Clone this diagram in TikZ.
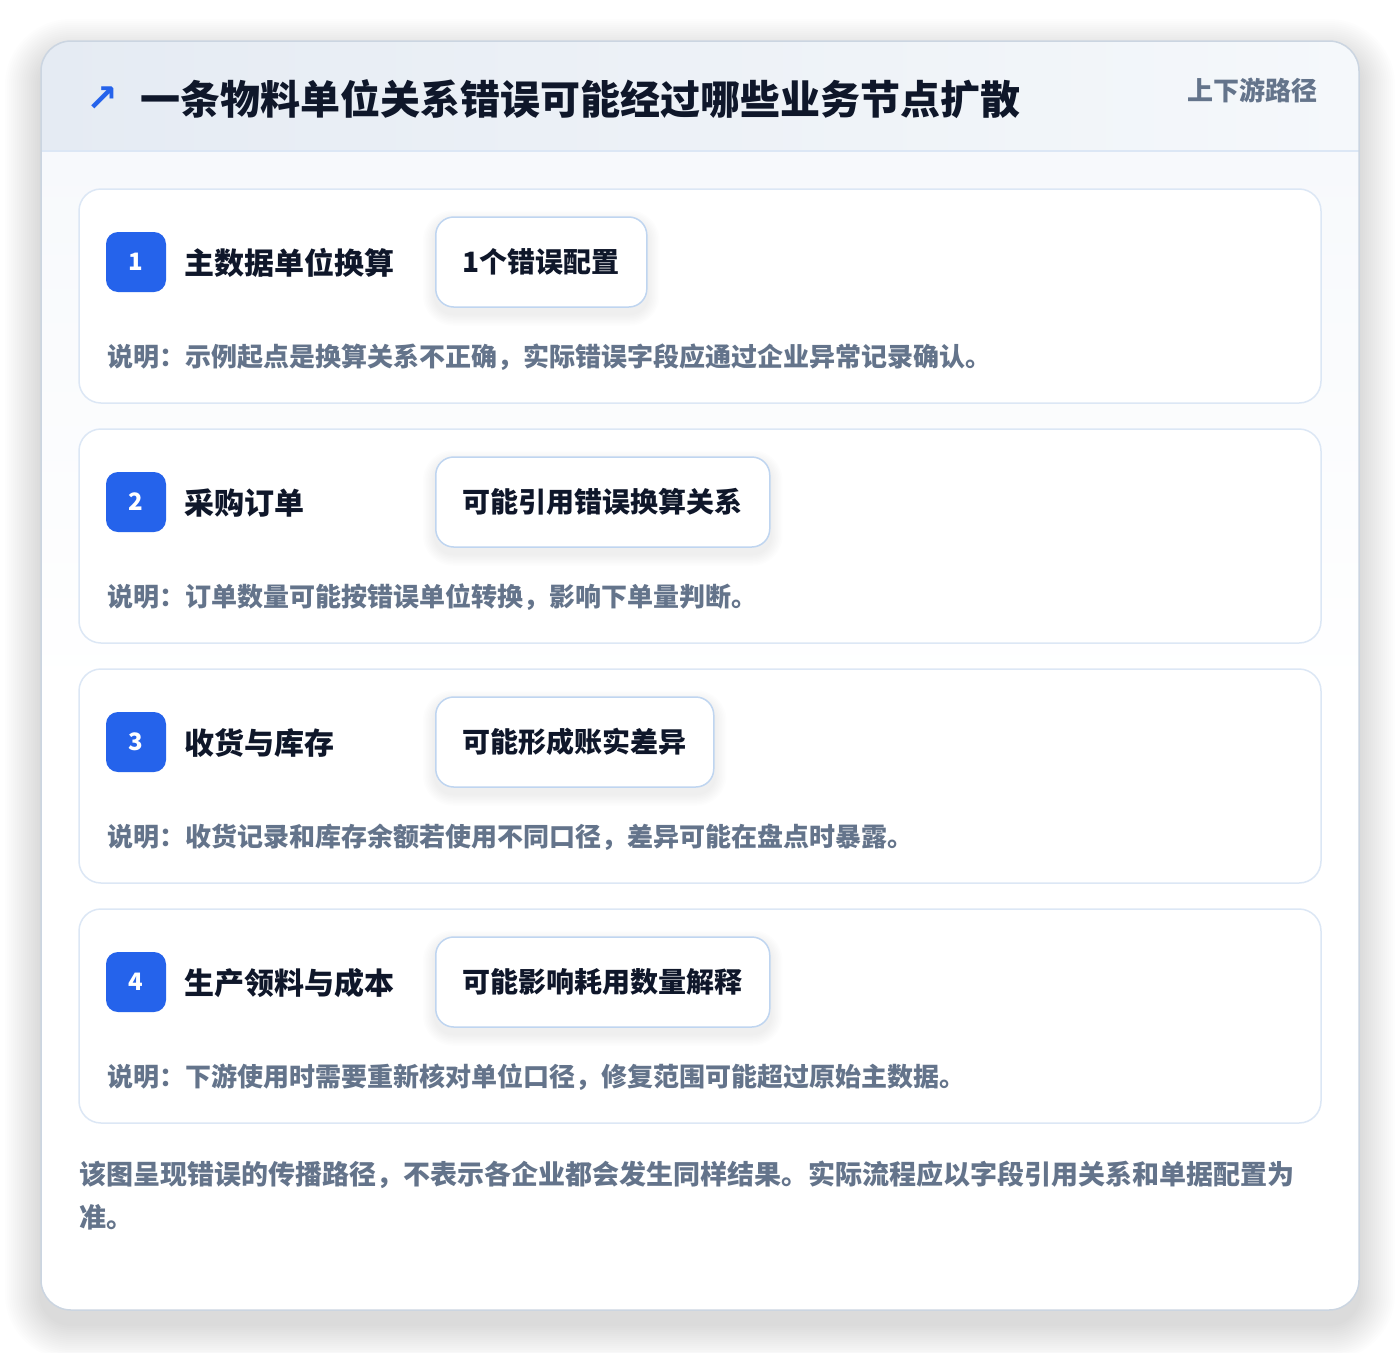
\documentclass[tikz,border=0pt]{standalone}
\usepackage{fontspec}
\setmainfont{Noto Sans CJK SC}
\newfontfamily\symfont{DejaVu Sans}
\definecolor{accent}{HTML}{2563EB}
\definecolor{ink}{HTML}{0F172A}
\definecolor{muted}{HTML}{64748B}
\definecolor{cardline}{HTML}{DCE7F5}
\definecolor{pillline}{HTML}{BFD5F0}
\definecolor{outerline}{HTML}{CBD5E1}
\definecolor{headA}{HTML}{E5EBF3}
\definecolor{headB}{HTML}{F5F8FB}
\definecolor{bodytop}{HTML}{F7F9FC}
\definecolor{shadowcol}{HTML}{1E293B}
\tikzset{
  stepcard/.style={draw=cardline, line width=1.5pt, fill=white, rounded corners=22pt,
    minimum width=1242pt, minimum height=214pt, inner sep=0pt},
  badge/.style={fill=accent, rounded corners=12pt, minimum width=60pt, minimum height=60pt,
    inner sep=0pt, text=white, font=\fontsize{24}{26}\selectfont\bfseries},
  steptitle/.style={anchor=west, inner sep=0pt, text=ink, font=\fontsize{30}{36}\selectfont\bfseries},
  pill/.style={anchor=west, draw=pillline, line width=1.5pt, fill=white, rounded corners=18pt,
    minimum height=90pt, inner xsep=27pt, inner ysep=0pt, text=ink,
    font=\fontsize{28}{32}\selectfont\bfseries},
  desc/.style={anchor=west, inner sep=0pt, text=muted, font=\fontsize{26}{30}\selectfont\bfseries},
  foot/.style={anchor=west, inner sep=0pt, text=muted, font=\fontsize{27}{32}\selectfont\bfseries},
}
\newcommand{\softshadow}[5]{% x1 y1 x2 y2 radius
  \foreach \i in {1,...,18}{
    \fill[shadowcol, opacity=0.006, rounded corners={#5+2*\i}]
      ({#1-2*\i},{#2-2*\i+14}) rectangle ({#3+2*\i},{#4+2*\i+14});
  }}
\newcommand{\pillshadow}[1]{% node name
  \foreach \i in {1,...,8}{
    \fill[shadowcol, opacity=0.008, rounded corners={18+1.5*\i}]
      ([xshift={-1.5*\i}, yshift={1.5*\i-6}]#1.north west) rectangle ([xshift={1.5*\i}, yshift={-1.5*\i-6}]#1.south east);
  }}
\begin{document}
\begin{tikzpicture}[x=1pt,y=-1pt]
\useasboundingbox (0,0) rectangle (1400,1352);
\fill[white] (0,0) rectangle (1400,1352);
% outer card shadow
\softshadow{41}{41}{1359}{1310}{30}
\fill[white, rounded corners=30pt] (41,41) rectangle (1359,1310);
\begin{scope}
  \clip[rounded corners=30pt] (41,41) rectangle (1359,1310);
  \shade[top color=bodytop, bottom color=white] (41,151) rectangle (1359,700);
  \shade[left color=headA, right color=headB] (41,41) rectangle (1359,151);
\end{scope}
\draw[cardline, line width=1.5pt] (41,151) -- (1359,151);
\draw[outerline, line width=1.5pt, rounded corners=30pt] (41,41) rectangle (1359,1310);
% header
\node[anchor=center, inner sep=0pt, text=accent, font=\symfont\fontsize{38}{40}\selectfont\bfseries] (arrow) at (102,99) {↗};
\node[anchor=west, inner sep=0pt, text=ink, font=\fontsize{40}{48}\selectfont\bfseries] (title) at (140,99) {一条物料单位关系错误可能经过哪些业务节点扩散};
\node[anchor=east, inner sep=0pt, text=muted, font=\fontsize{26}{30}\selectfont\bfseries] (tag) at (1318,90) {上下游路径};
% step 1
\node[stepcard] (c1) at (700,296) {};
\node[badge] (b1) at (136,262) {1};
\node[steptitle] (t1) at (184,263) {主数据单位换算};
\node[pill, fill=none, draw=none] (p1) at (435,262) {\phantom{1个错误配置}};
\pillshadow{p1}
\node[pill] (p1) at (435,262) {1个错误配置};
\node[desc] (d1) at (107,357) {说明：示例起点是换算关系不正确，实际错误字段应通过企业异常记录确认。};
% step 2
\node[stepcard] (c2) at (700,536) {};
\node[badge] (b2) at (136,502) {2};
\node[steptitle] (t2) at (184,503) {采购订单};
\node[pill, fill=none, draw=none] (p2) at (435,502) {\phantom{可能引用错误换算关系}};
\pillshadow{p2}
\node[pill] (p2) at (435,502) {可能引用错误换算关系};
\node[desc] (d2) at (107,597) {说明：订单数量可能按错误单位转换，影响下单量判断。};
% step 3
\node[stepcard] (c3) at (700,776) {};
\node[badge] (b3) at (136,742) {3};
\node[steptitle] (t3) at (184,743) {收货与库存};
\node[pill, fill=none, draw=none] (p3) at (435,742) {\phantom{可能形成账实差异}};
\pillshadow{p3}
\node[pill] (p3) at (435,742) {可能形成账实差异};
\node[desc] (d3) at (107,837) {说明：收货记录和库存余额若使用不同口径，差异可能在盘点时暴露。};
% step 4
\node[stepcard] (c4) at (700,1016) {};
\node[badge] (b4) at (136,982) {4};
\node[steptitle] (t4) at (184,983) {生产领料与成本};
\node[pill, fill=none, draw=none] (p4) at (435,982) {\phantom{可能影响耗用数量解释}};
\pillshadow{p4}
\node[pill] (p4) at (435,982) {可能影响耗用数量解释};
\node[desc] (d4) at (107,1077) {说明：下游使用时需要重新核对单位口径，修复范围可能超过原始主数据。};
% footer
\node[foot] (f1) at (79,1175) {该图呈现错误的传播路径，不表示各企业都会发生同样结果。实际流程应以字段引用关系和单据配置为};
\node[foot] (f2) at (79,1217) {准。};
\end{tikzpicture}
\end{document}
